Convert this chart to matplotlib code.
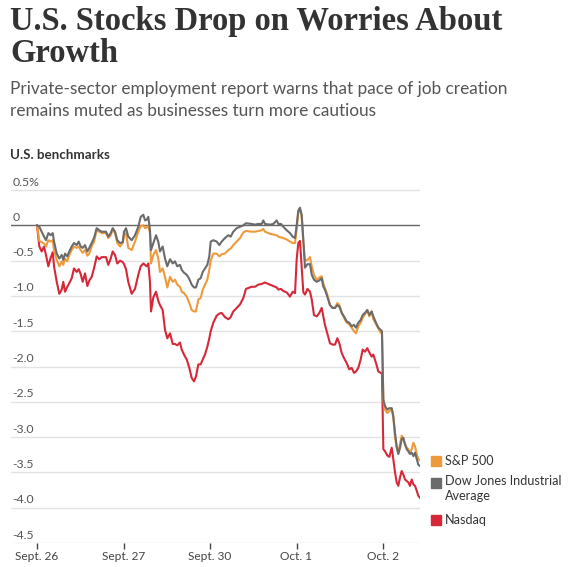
import numpy as np
import matplotlib
matplotlib.use("Agg")
import matplotlib.pyplot as plt

# time in trading days since the Sept. 26 open
t = [0.000, 0.027, 0.054, 0.081, 0.104, 0.131, 0.158, 0.182, 0.197, 0.228,
     0.258, 0.286, 0.304, 0.324, 0.350, 0.373, 0.401, 0.428, 0.459, 0.482,
     0.505, 0.528, 0.555, 0.582, 0.605, 0.632, 0.659, 0.690, 0.720, 0.748,
     0.798, 0.824, 0.852, 0.875, 0.902, 0.928, 0.960, 0.991, 1.006, 1.029,
     1.055, 1.095, 1.133, 1.171, 1.199, 1.229, 1.249, 1.268, 1.287, 1.306,
     1.318, 1.345, 1.376, 1.402, 1.422, 1.453, 1.480, 1.506, 1.538, 1.569,
     1.595, 1.622, 1.653, 1.673, 1.699, 1.731, 1.761, 1.788, 1.815, 1.838,
     1.865, 1.892, 1.916, 1.942, 1.969, 1.992, 2.008, 2.038, 2.077, 2.108,
     2.135, 2.173, 2.212, 2.239, 2.269, 2.309, 2.347, 2.385, 2.416, 2.482,
     2.520, 2.558, 2.598, 2.616, 2.636, 2.694, 2.732, 2.771, 2.790, 2.821,
     2.847, 2.887, 2.925, 2.956, 2.983, 3.002, 3.021, 3.040, 3.060, 3.079,
     3.098, 3.127, 3.156, 3.176, 3.202, 3.234, 3.264, 3.291, 3.310, 3.329,
     3.356, 3.387, 3.418, 3.445, 3.472, 3.495, 3.523, 3.549, 3.580, 3.610,
     3.638, 3.665, 3.688, 3.714, 3.742, 3.765, 3.792, 3.818, 3.842, 3.869,
     3.888, 3.919, 3.946, 3.973, 3.988, 4.004, 4.023, 4.050, 4.073, 4.101,
     4.119, 4.139, 4.158, 4.177, 4.197, 4.216, 4.235, 4.254, 4.274, 4.292,
     4.312, 4.332, 4.351, 4.370, 4.390, 4.408, 4.428]

dow = [0.00, -0.02, -0.09, -0.16, -0.21, -0.11, -0.14, -0.11, -0.23, -0.40,
       -0.47, -0.42, -0.49, -0.40, -0.44, -0.37, -0.30, -0.25, -0.28, -0.23,
       -0.30, -0.32, -0.28, -0.37, -0.32, -0.25, -0.18, -0.04, -0.07, -0.09,
       -0.09, -0.16, -0.11, -0.04, -0.09, -0.21, -0.25, -0.24, -0.09, -0.04,
       -0.16, -0.21, -0.14, -0.02, 0.12, 0.15, 0.07, 0.08, 0.12, -0.07,
       -0.35, -0.25, -0.14, -0.23, -0.37, -0.30, -0.47, -0.58, -0.48, -0.54,
       -0.51, -0.58, -0.56, -0.63, -0.67, -0.70, -0.76, -0.84, -0.88, -0.88,
       -0.77, -0.75, -0.66, -0.61, -0.56, -0.44, -0.23, -0.21, -0.23, -0.28,
       -0.23, -0.18, -0.14, -0.16, -0.09, -0.04, -0.02, 0.00, 0.03, 0.02,
       0.01, 0.02, 0.02, 0.07, 0.02, 0.01, 0.02, 0.07, 0.02, 0.02,
       -0.02, -0.07, -0.11, -0.16, -0.18, 0.00, 0.21, 0.25, 0.15, -0.20,
       -0.60, -0.55, -0.55, -0.70, -0.77, -0.80, -0.78, -0.75, -0.87, -0.91,
       -1.01, -1.13, -1.17, -1.17, -1.13, -1.15, -1.24, -1.29, -1.36, -1.38,
       -1.43, -1.41, -1.45, -1.38, -1.34, -1.27, -1.24, -1.20, -1.27, -1.22,
       -1.29, -1.38, -1.45, -1.48, -1.50, -2.47, -2.56, -2.61, -2.59, -2.59,
       -2.70, -2.94, -3.13, -3.24, -3.15, -3.03, -3.01, -3.10, -3.17, -3.20,
       -3.24, -3.22, -3.27, -3.22, -3.31, -3.39, -3.41]

sp500 = [0.00, -0.22, -0.24, -0.26, -0.30, -0.21, -0.23, -0.21, -0.35, -0.49,
         -0.58, -0.51, -0.56, -0.47, -0.51, -0.42, -0.35, -0.30, -0.32, -0.30,
         -0.35, -0.39, -0.35, -0.43, -0.40, -0.30, -0.23, -0.07, -0.09, -0.11,
         -0.11, -0.18, -0.14, -0.06, -0.11, -0.25, -0.30, -0.25, -0.14, -0.11,
         -0.32, -0.35, -0.23, -0.09, -0.01, 0.00, -0.04, -0.03, 0.00, -0.11,
         -0.54, -0.42, -0.35, -0.47, -0.66, -0.61, -0.73, -0.88, -0.73, -0.80,
         -0.77, -0.84, -0.87, -0.94, -0.96, -1.01, -1.10, -1.20, -1.22, -1.22,
         -1.05, -1.03, -0.91, -0.84, -0.77, -0.63, -0.50, -0.40, -0.40, -0.44,
         -0.41, -0.40, -0.35, -0.33, -0.28, -0.23, -0.18, -0.10, -0.08, -0.09,
         -0.09, -0.08, -0.07, -0.05, -0.09, -0.12, -0.13, -0.14, -0.16, -0.17,
         -0.18, -0.20, -0.23, -0.25, -0.25, -0.05, 0.19, 0.23, 0.12, -0.25,
         -0.50, -0.49, -0.45, -0.58, -0.70, -0.77, -0.74, -0.72, -0.82, -0.89,
         -0.98, -1.13, -1.17, -1.17, -1.10, -1.13, -1.24, -1.31, -1.38, -1.40,
         -1.45, -1.50, -1.53, -1.43, -1.38, -1.31, -1.26, -1.20, -1.29, -1.22,
         -1.33, -1.40, -1.46, -1.52, -1.52, -2.49, -2.61, -2.66, -2.63, -2.61,
         -2.72, -3.00, -3.15, -3.22, -3.10, -2.98, -3.03, -3.10, -3.15, -3.17,
         -3.22, -3.17, -3.08, -3.13, -3.24, -3.31, -3.33]

nasdaq = [0.00, -0.30, -0.37, -0.30, -0.42, -0.58, -0.46, -0.38, -0.58, -0.80,
          -0.97, -0.91, -0.80, -0.94, -0.87, -0.82, -0.75, -0.61, -0.66, -0.62,
          -0.69, -0.80, -0.68, -0.86, -0.78, -0.73, -0.61, -0.44, -0.48, -0.45,
          -0.45, -0.56, -0.47, -0.37, -0.42, -0.54, -0.50, -0.52, -0.55, -0.62,
          -0.80, -0.97, -0.90, -0.70, -0.58, -0.54, -0.56, -0.58, -0.54, -0.80,
          -1.22, -1.02, -0.94, -1.07, -1.13, -1.20, -1.48, -1.60, -1.53, -1.68,
          -1.68, -1.70, -1.66, -1.76, -1.83, -1.90, -2.02, -2.16, -2.21, -2.14,
          -1.97, -1.97, -1.90, -1.83, -1.72, -1.60, -1.50, -1.38, -1.28, -1.25,
          -1.24, -1.30, -1.33, -1.30, -1.22, -1.17, -1.12, -1.03, -0.90, -0.87,
          -0.87, -0.84, -0.83, -0.82, -0.81, -0.84, -0.86, -0.88, -0.91, -0.90,
          -0.93, -0.95, -1.01, -0.94, -0.96, -0.48, -0.25, -0.22, -0.60, -0.95,
          -0.98, -0.90, -0.94, -1.05, -1.27, -1.29, -1.24, -1.17, -1.29, -1.41,
          -1.53, -1.67, -1.69, -1.69, -1.60, -1.67, -1.81, -1.88, -1.95, -2.04,
          -2.02, -2.09, -2.07, -2.02, -1.90, -1.76, -1.79, -1.74, -1.80, -1.86,
          -1.83, -1.95, -2.07, -2.09, -2.09, -3.17, -3.20, -3.26, -3.28, -3.15,
          -3.31, -3.50, -3.64, -3.69, -3.57, -3.48, -3.53, -3.60, -3.62, -3.64,
          -3.69, -3.60, -3.67, -3.69, -3.76, -3.83, -3.86]

day_ticks = [0, 1, 2, 3, 4]
day_labels = ["Sept. 26", "Sept. 27", "Sept. 30", "Oct. 1", "Oct. 2"]
y_ticks = [0.5, 0.0, -0.5, -1.0, -1.5, -2.0, -2.5, -3.0, -3.5, -4.0, -4.5]
y_labels = ["0.5%", "0", "-0.5", "-1.0", "-1.5", "-2.0", "-2.5", "-3.0", "-3.5", "-4.0", "-4.5"]

series_names = ["S&P 500", "Dow Jones Industrial\nAverage", "Nasdaq"]
series_colors = ["#ee9a3c", "#6b6b6b", "#d62839"]

W, H = 571, 567
fig = plt.figure(figsize=(W / 100, H / 100), dpi=100)


def fx(px):
    return px / W


def fy(py):
    return 1 - py / H


# headline block
fig.text(fx(10), fy(30), "U.S. Stocks Drop on Worries About", family="Liberation Serif",
         weight="bold", fontsize=23.5, color="#333333", va="baseline")
fig.text(fx(10), fy(62), "Growth", family="Liberation Serif",
         weight="bold", fontsize=23.5, color="#333333", va="baseline")
fig.text(fx(10), fy(94), "Private-sector employment report warns that pace of job creation",
         family="Lato", fontsize=12.4, color="#555555", va="baseline")
fig.text(fx(10), fy(116), "remains muted as businesses turn more cautious",
         family="Lato", fontsize=12.4, color="#555555", va="baseline")
fig.text(fx(10), fy(159), "U.S. benchmarks", family="Lato", weight="bold",
         fontsize=9.6, color="#333333", va="baseline")

ax = fig.add_axes([fx(11), fy(543), fx(420) - fx(11), fy(183) - fy(543)])
ax.set_xlim(-26 / 86.5, 383 / 86.5)
ax.set_ylim(-4.5, 0.6)
for s in ax.spines.values():
    s.set_visible(False)

for v in y_ticks:
    if v == 0:
        ax.axhline(v, color="#666666", lw=1.0, zorder=2)
    else:
        ax.axhline(v, color="#e2e2e2", lw=1.0, zorder=1)

ytr = ax.get_yaxis_transform()
for v, lab in zip(y_ticks, y_labels):
    ax.text(0.003, v + 0.035, lab, transform=ytr, ha="left", va="bottom",
            family="Lato", fontsize=8.8, color="#555555")

ax.plot(t, nasdaq, color=series_colors[2], lw=1.5, zorder=3, solid_joinstyle="round")
ax.plot(t, sp500, color=series_colors[0], lw=1.5, zorder=4, solid_joinstyle="round")
ax.plot(t, dow, color=series_colors[1], lw=1.5, zorder=5, solid_joinstyle="round")

ax.set_yticks([])
ax.set_xticks(day_ticks)
ax.set_xticklabels(day_labels, family="Lato", fontsize=8.6, color="#444444")
ax.tick_params(axis="x", length=4, width=1, color="#444444", pad=1.5)

# legend on the right
legend_y = [461, 483, 520]
for name, col, py in zip(series_names, series_colors, legend_y):
    fig.patches.append(plt.Rectangle((fx(431), fy(py + 5)), fx(10), 10 / H,
                                     transform=fig.transFigure, color=col, figure=fig))
    if "\n" in name:
        fig.text(fx(445), fy(py - 8), name, family="Lato", fontsize=9.1, color="#333333",
                 va="top", linespacing=1.3)
    else:
        fig.text(fx(445), fy(py), name, family="Lato", fontsize=9.1, color="#333333",
                 va="center")

fig.savefig("out.png", dpi=100, facecolor="white")
